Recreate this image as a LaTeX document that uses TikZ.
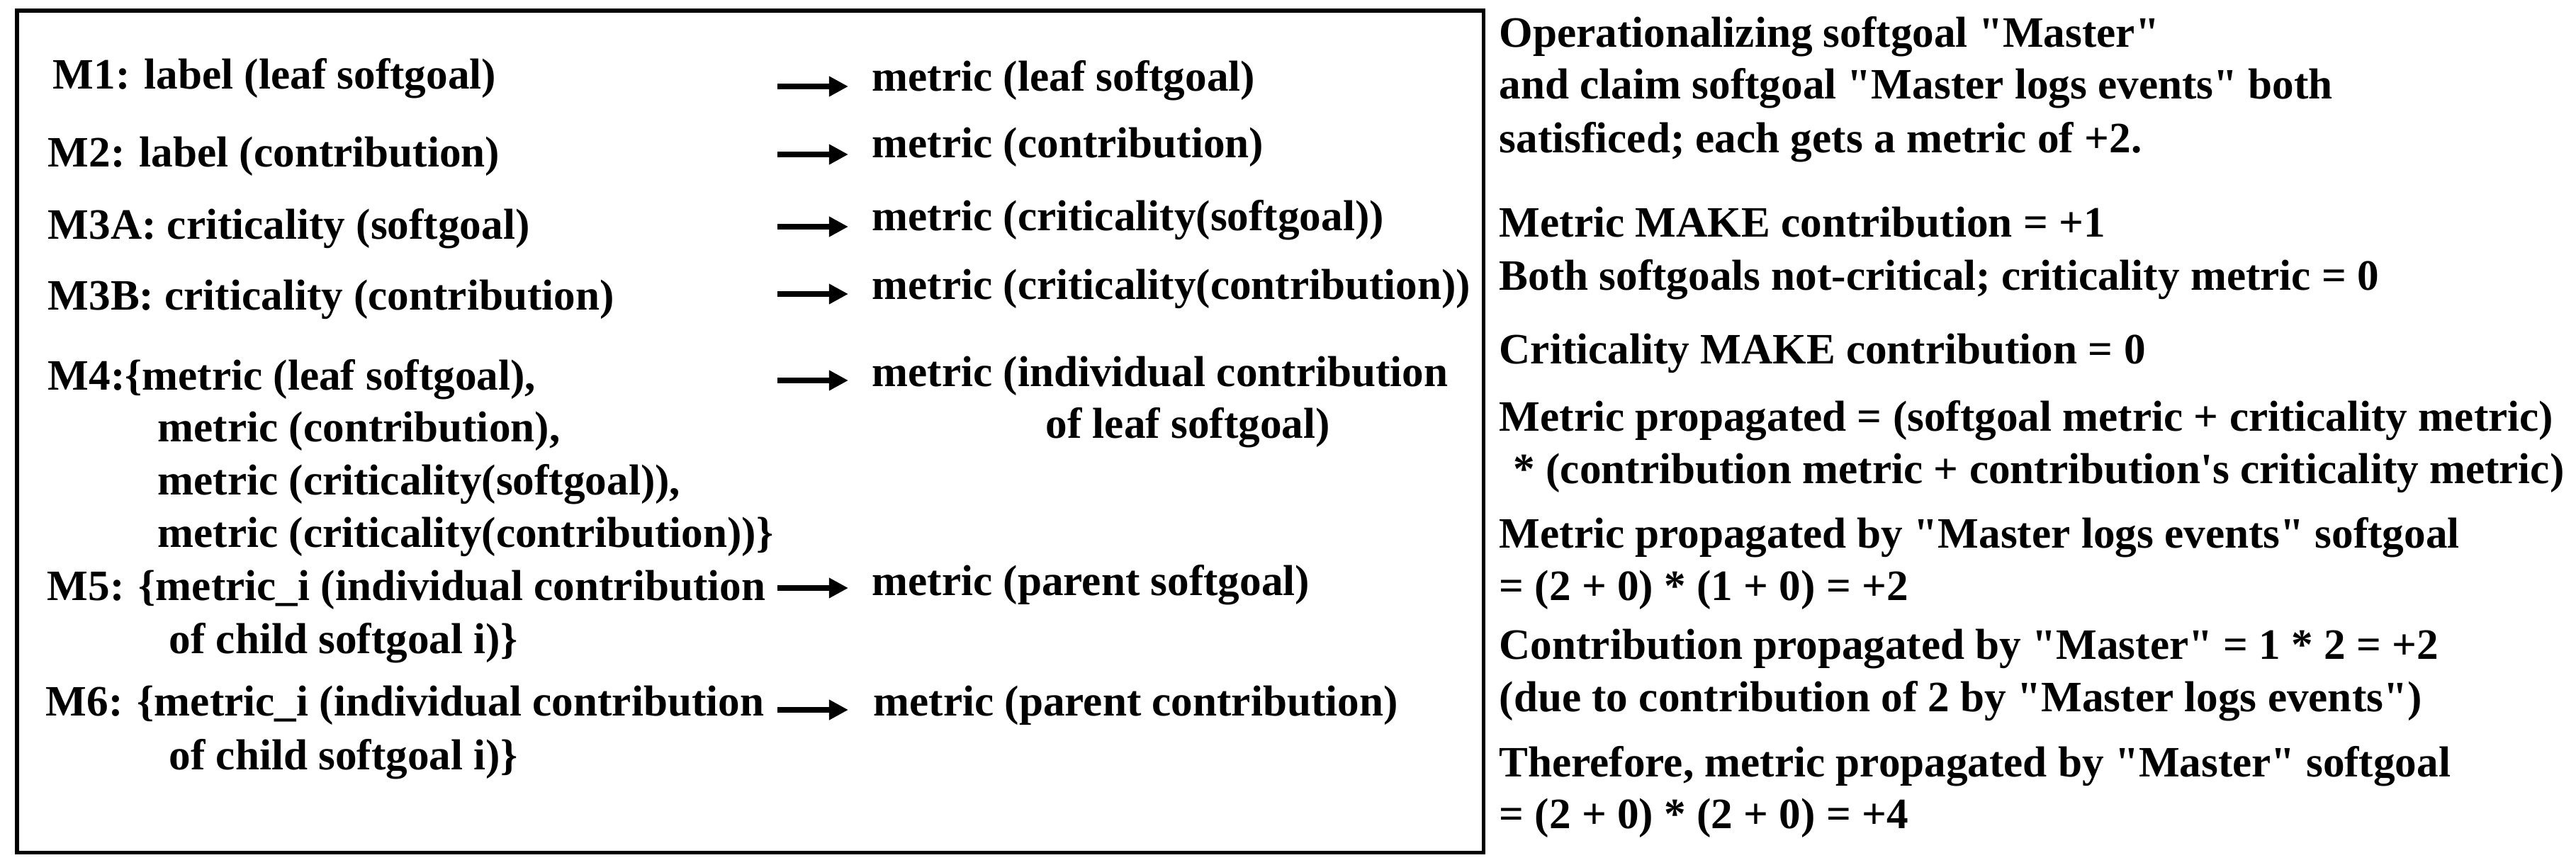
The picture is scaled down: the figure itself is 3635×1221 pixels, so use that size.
\documentclass[tikz,border=0pt]{standalone}
\usepackage{fontspec}
\setmainfont{Liberation Serif}[Ligatures=TeXOff]
\usetikzlibrary{arrows.meta}
\begin{document}
\begin{tikzpicture}[x=0.01cm,y=-0.01cm,
  txt/.style={anchor=base west, inner sep=0pt, font=\fontsize{17.4}{21}\selectfont\bfseries},
  arr/.style={line width=0.08cm, -{Triangle[length=0.27cm,width=0.27cm]}},
  frame/.style={line width=0.05cm}]
\useasboundingbox (0,0) rectangle (3635,1221);
\draw[frame] (24,15) rectangle (2093,1203);
% left column
\node[txt] (m1) at (74,125) {M1: label (leaf softgoal)};
\node[txt] (m2) at (67,235) {M2: label (contribution)};
\node[txt] (m3a) at (67,337) {M3A: criticality (softgoal)};
\node[txt] (m3b) at (67,437) {M3B: criticality (contribution)};
\node[txt] (m4a) at (67,550) {M4:\{metric (leaf softgoal),};
\node[txt] (m4b) at (222,623) {metric (contribution),};
\node[txt] (m4c) at (222,698) {metric (criticality(softgoal)),};
\node[txt] (m4d) at (222,772) {metric (criticality(contribution))\}};
\node[txt] (m5a) at (66,847) {M5: \{metric\_i (individual contribution};
\node[txt] (m5b) at (238,922) {of child softgoal i)\}};
\node[txt] (m6a) at (64,1010) {M6: \{metric\_i (individual contribution};
\node[txt] (m6b) at (238,1086) {of child softgoal i)\}};
% results
\node[txt] (r1) at (1230,128) {metric (leaf softgoal)};
\node[txt] (r2) at (1230,222) {metric (contribution)};
\node[txt] (r3a) at (1230,325) {metric (criticality(softgoal))};
\node[txt] (r3b) at (1230,422) {metric (criticality(contribution))};
\node[txt] (r4a) at (1230,545) {metric (individual contribution};
\node[txt] (r4b) at (1475,618) {of leaf softgoal)};
\node[txt] (r5) at (1230,840) {metric (parent softgoal)};
\node[txt] (r6) at (1232,1010) {metric (parent contribution)};
% arrows
\foreach \n/\y in {1/122,2/218,3/320,4/415,5/537,6/830,7/1002}{
  \coordinate (s\n) at (1097,\y);
  \coordinate (e\n) at (1197,\y);
  \draw[arr] (s\n) -- (e\n);
}
% right notes
\node[txt] (n1) at (2115,66) {Operationalizing softgoal "Master"};
\node[txt] (n2) at (2115,139) {and claim softgoal "Master logs events" both};
\node[txt] (n3) at (2115,215) {satisficed; each gets a metric of +2.};
\node[txt] (n4) at (2115,334) {Metric MAKE contribution = +1};
\node[txt] (n5) at (2115,409) {Both softgoals not-critical; criticality metric = 0};
\node[txt] (n6) at (2115,513) {Criticality MAKE contribution = 0};
\node[txt] (n7) at (2115,608) {Metric propagated = (softgoal metric + criticality metric)};
\node[txt] (n8) at (2135,682) {* (contribution metric + contribution's criticality metric)};
\node[txt] (n9) at (2115,773) {Metric propagated by "Master logs events" softgoal};
\node[txt] (n10) at (2115,847) {= (2 + 0) * (1 + 0) = +2};
\node[txt] (n11) at (2115,930) {Contribution propagated by "Master" = 1 * 2 = +2};
\node[txt] (n12) at (2115,1004) {(due to contribution of 2 by "Master logs events")};
\node[txt] (n13) at (2115,1096) {Therefore, metric propagated by "Master" softgoal};
\node[txt] (n14) at (2115,1169) {= (2 + 0) * (2 + 0) = +4};
\end{tikzpicture}
\end{document}
